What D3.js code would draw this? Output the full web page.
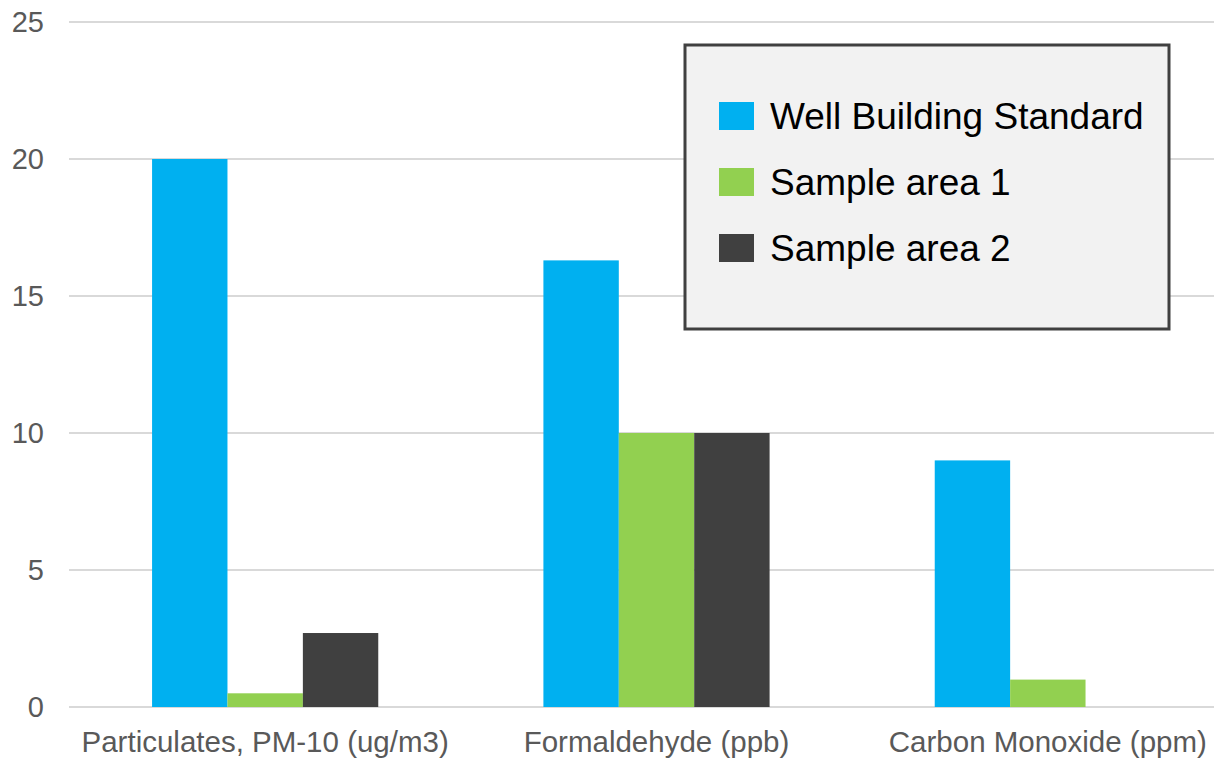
<!DOCTYPE html>
<html>
<head>
<meta charset="utf-8">
<script src="https://cdn.jsdelivr.net/npm/d3@7"></script>
<style>
  body { margin: 0; background: #fff; }
  svg { display: block; font-family: "Liberation Sans", Arial, sans-serif; }
</style>
</head>
<body>
<script>
// data
var categories = ["Particulates, PM-10 (ug/m3)", "Formaldehyde (ppb)", "Carbon Monoxide (ppm)"];
var seriesNames = ["Well Building Standard", "Sample area 1", "Sample area 2"];
var wellStandard = [20, 16.3, 9];
var sampleArea1 = [0.5, 10, 1];
var sampleArea2 = [2.7, 10, null];
var yTicks = [0, 5, 10, 15, 20, 25];
var colors = ["#00B0F0", "#92D050", "#404040"];

var seriesValues = [wellStandard, sampleArea1, sampleArea2];

var W = 1214, H = 761;
var svg = d3.select("body").append("svg")
    .attr("width", W)
    .attr("height", H);

// plot area runs past the right edge (chart was cropped)
var x0 = d3.scaleBand().domain(categories).range([69.5, 1243.5]).padding(0);
var x1 = d3.scaleBand().domain(seriesNames)
    .range([x0.bandwidth() * 0.211, x0.bandwidth() * 0.789]).padding(0);
var y = d3.scaleLinear().domain([0, 25]).range([707, 22]);

// gridlines
svg.append("g").selectAll("line")
    .data(yTicks)
  .enter().append("line")
    .attr("x1", 69).attr("x2", W)
    .attr("y1", function(d) { return y(d); })
    .attr("y2", function(d) { return y(d); })
    .attr("stroke", "#d9d9d9")
    .attr("stroke-width", 2);

// y labels
svg.append("g").selectAll("text")
    .data(yTicks)
  .enter().append("text")
    .attr("x", 44)
    .attr("y", function(d) { return y(d); })
    .attr("dy", "0.36em")
    .attr("text-anchor", "end")
    .attr("font-size", 29)
    .attr("fill", "#595959")
    .text(function(d) { return d; });

// bars
var groups = svg.append("g").selectAll("g")
    .data(categories)
  .enter().append("g")
    .attr("transform", function(d) { return "translate(" + x0(d) + ",0)"; });

groups.selectAll("rect")
    .data(function(c, i) {
      return seriesNames.map(function(s, j) { return {s: s, v: seriesValues[j][i], j: j}; })
        .filter(function(d) { return d.v != null; });
    })
  .enter().append("rect")
    .attr("x", function(d) { return x1(d.s); })
    .attr("width", x1.bandwidth())
    .attr("y", function(d) { return y(d.v); })
    .attr("height", function(d) { return y(0) - y(d.v); })
    .attr("fill", function(d) { return colors[d.j]; });

// category labels
svg.append("g").selectAll("text")
    .data(categories)
  .enter().append("text")
    .attr("x", function(d) { return x0(d) + x0.bandwidth() / 2; })
    .attr("y", 752)
    .attr("text-anchor", "middle")
    .attr("font-size", 29.5)
    .attr("fill", "#595959")
    .text(function(d) { return d; });

// legend
var legend = svg.append("g");
legend.append("rect")
    .attr("x", 685).attr("y", 45)
    .attr("width", 484).attr("height", 284)
    .attr("fill", "#f2f2f2")
    .attr("stroke", "#404040")
    .attr("stroke-width", 3);

var items = legend.selectAll("g.item")
    .data(seriesNames)
  .enter().append("g")
    .attr("class", "item")
    .attr("transform", function(d, i) { return "translate(0," + (i * 66) + ")"; });

items.append("rect")
    .attr("x", 719).attr("y", 102)
    .attr("width", 35).attr("height", 28)
    .attr("fill", function(d, i) { return colors[i]; });

items.append("text")
    .attr("x", 770).attr("y", 129)
    .attr("font-size", 37)
    .attr("fill", "#000")
    .text(function(d) { return d; });
</script>
</body>
</html>
